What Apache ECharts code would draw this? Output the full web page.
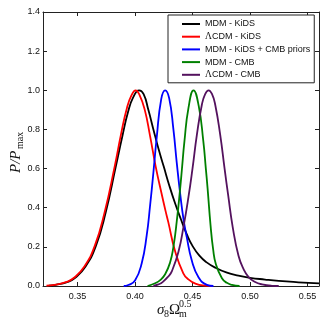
<!DOCTYPE html>
<html>
<head>
<meta charset="utf-8">
<script src="https://cdn.jsdelivr.net/npm/echarts@6.0.0/dist/echarts.min.js"></script>
<style>
html, body { margin: 0; padding: 0; background: #fff; }
#chart { width: 327px; height: 327px; }
</style>
</head>
<body>
<div id="chart"></div>
<script>
// values (x = sigma8 * Omega_m^0.5, y = P/Pmax)
const names = ['MDM - KiDS', 'ΛCDM - KiDS', 'MDM - KiDS + CMB priors', 'MDM - CMB', 'ΛCDM - CMB']
const colors = ['#000000', '#ff0000', '#0000ff', '#008000', '#54125e']

const mdmKidsX = [0.325, 0.331, 0.341, 0.348, 0.357, 0.366, 0.3745, 0.3833, 0.389, 0.394, 0.3985, 0.4035, 0.4075, 0.4116, 0.4160, 0.4205, 0.4250, 0.4300, 0.4350, 0.4400, 0.4450, 0.4500, 0.4560, 0.4620, 0.4700, 0.4800, 0.4900, 0.5000, 0.5130, 0.5250, 0.5420, 0.5600]
const mdmKidsY = [0.002, 0.006, 0.02, 0.042, 0.10, 0.205, 0.375, 0.61, 0.765, 0.89, 0.965, 1.0, 0.98, 0.90, 0.80, 0.70, 0.61, 0.51, 0.42, 0.34, 0.265, 0.205, 0.155, 0.122, 0.093, 0.068, 0.053, 0.042, 0.033, 0.026, 0.019, 0.013]

const lcdmKidsX = [0.323, 0.330, 0.340, 0.347, 0.356, 0.365, 0.3735, 0.3823, 0.388, 0.393, 0.397, 0.4005, 0.404, 0.4085, 0.413, 0.418, 0.423, 0.4265, 0.429, 0.435, 0.442, 0.4465, 0.4525, 0.4605, 0.4675]
const lcdmKidsY = [0.002, 0.006, 0.02, 0.042, 0.10, 0.205, 0.375, 0.61, 0.78, 0.91, 0.975, 1.0, 0.975, 0.90, 0.77, 0.61, 0.475, 0.385, 0.325, 0.175, 0.065, 0.034, 0.012, 0.002, 0]

const mdmKidsCmbX = [0.3902, 0.3942, 0.4000, 0.4058, 0.4102, 0.4131, 0.4160, 0.4189, 0.4228, 0.4262, 0.4297, 0.4334, 0.4363, 0.4395, 0.4422, 0.4450, 0.4494, 0.4552, 0.4625, 0.4682]
const mdmKidsCmbY = [0, 0.005, 0.028, 0.115, 0.26, 0.41, 0.58, 0.76, 0.955, 1.0, 0.96, 0.80, 0.63, 0.46, 0.34, 0.25, 0.13, 0.045, 0.006, 0]

const mdmCmbX = [0.4109, 0.4175, 0.4219, 0.4262, 0.4305, 0.4334, 0.4363, 0.4393, 0.4407, 0.4430, 0.4465, 0.4509, 0.4554, 0.4594, 0.4616, 0.4631, 0.4657, 0.4679, 0.4704, 0.4756, 0.4799, 0.4843, 0.4909]
const mdmCmbY = [0, 0.014, 0.03, 0.06, 0.12, 0.20, 0.33, 0.50, 0.59, 0.74, 0.91, 1.0, 0.92, 0.74, 0.60, 0.50, 0.31, 0.19, 0.11, 0.04, 0.016, 0.006, 0]

const lcdmCmbX = [0.416, 0.4203, 0.424, 0.4291, 0.432, 0.4378, 0.4422, 0.4465, 0.450, 0.4538, 0.4581, 0.461, 0.464, 0.467, 0.4698, 0.4741, 0.4779, 0.4811, 0.485, 0.490, 0.4945, 0.4988, 0.504, 0.5105, 0.519, 0.525]
const lcdmCmbY = [0, 0.008, 0.02, 0.05, 0.075, 0.175, 0.303, 0.455, 0.60, 0.772, 0.925, 0.98, 1.0, 0.98, 0.925, 0.772, 0.60, 0.46, 0.30, 0.155, 0.085, 0.045, 0.022, 0.008, 0.001, 0]

const xTicks = [0.35, 0.40, 0.45, 0.50, 0.55]

const xs = [mdmKidsX, lcdmKidsX, mdmKidsCmbX, mdmCmbX, lcdmCmbX]
const ys = [mdmKidsY, lcdmKidsY, mdmKidsCmbY, mdmCmbY, lcdmCmbY]

const frame = '#222'
const sans = '"Liberation Sans", Arial, sans-serif'
const serif = '"Liberation Serif", "DejaVu Serif", serif'

function pairs (x, y) {
  return x.map((v, i) => [v, y[i]])
}

const chart = echarts.init(document.getElementById('chart'))

const xAxisBase = {
  type: 'value',
  min: 0.32,
  max: 0.56,
  splitLine: { show: false },
  axisLine: { show: true, onZero: false, lineStyle: { color: frame, width: 1 } },
  axisTick: { show: true, inside: true, length: 4, customValues: xTicks, lineStyle: { color: frame } }
}
const yAxisBase = {
  type: 'value',
  min: 0,
  max: 1.4,
  interval: 0.2,
  splitLine: { show: false },
  axisLine: { show: true, onZero: false, lineStyle: { color: frame, width: 1 } },
  axisTick: { show: true, inside: true, length: 4, lineStyle: { color: frame } }
}

const option = {
  animation: false,
  backgroundColor: '#fff',
  grid: { left: 43, right: 8, top: 12, bottom: 41, containLabel: false },
  xAxis: [
    Object.assign({}, xAxisBase, {
      position: 'bottom',
      axisLabel: {
        customValues: xTicks,
        formatter: v => v.toFixed(2),
        fontFamily: sans, fontSize: 9, color: '#111', margin: 6
      }
    }),
    Object.assign({}, xAxisBase, { position: 'top', axisLabel: { show: false } })
  ],
  yAxis: [
    Object.assign({}, yAxisBase, {
      position: 'left',
      axisLabel: {
        formatter: v => v.toFixed(1),
        fontFamily: sans, fontSize: 9, color: '#111', margin: 3
      }
    }),
    Object.assign({}, yAxisBase, { position: 'right', axisLabel: { show: false } })
  ],
  legend: {
    orient: 'vertical',
    left: 168,
    top: 15,
    width: 147,
    padding: [4, 4, 3, 14],
    itemGap: 2.7,
    itemWidth: 18,
    itemHeight: 2,
    icon: 'rect',
    backgroundColor: '#fff',
    borderColor: frame,
    borderWidth: 1,
    borderRadius: 0,
    data: names,
    formatter: n => n.replace('Λ', '{l|Λ}'),
    textStyle: {
      fontFamily: sans, fontSize: 9, color: '#111', lineHeight: 10,
      rich: { l: { fontFamily: serif, fontSize: 9.5, color: '#111' } }
    }
  },
  series: names.map((n, i) => ({
    name: n,
    type: 'line',
    xAxisIndex: 0,
    yAxisIndex: 0,
    data: pairs(xs[i], ys[i]),
    smooth: 0.5,
    showSymbol: false,
    symbol: 'none',
    color: colors[i],
    lineStyle: { color: colors[i], width: 1.8 },
    z: 2 + i
  })),
  graphic: [
    // x axis title: sigma_8 Omega_m^0.5
    { type: 'text', x: 157, y: 310, style: { text: 'σ', font: 'italic 15px ' + serif, fill: '#111', verticalAlign: 'middle' } },
    { type: 'text', x: 164, y: 314, style: { text: '8', font: '10px ' + serif, fill: '#111', verticalAlign: 'middle' } },
    { type: 'text', x: 169, y: 310, style: { text: 'Ω', font: '15px ' + serif, fill: '#111', verticalAlign: 'middle' } },
    { type: 'text', x: 179, y: 304.5, style: { text: '0.5', font: '10px ' + serif, fill: '#111', verticalAlign: 'middle' } },
    { type: 'text', x: 179, y: 314, style: { text: 'm', font: '10px ' + serif, fill: '#111', verticalAlign: 'middle' } },
    // y axis title: P/P_max
    {
      type: 'group',
      x: 16,
      y: 173,
      rotation: Math.PI / 2,
      children: [
        { type: 'text', x: 0, y: 0, style: { text: 'P/P', font: 'italic 15px ' + serif, fill: '#111', verticalAlign: 'middle' } },
        { type: 'text', x: 24, y: 4, style: { text: 'max', font: '10px ' + serif, fill: '#111', verticalAlign: 'middle' } }
      ]
    }
  ]
}

chart.setOption(option)
</script>
</body>
</html>
